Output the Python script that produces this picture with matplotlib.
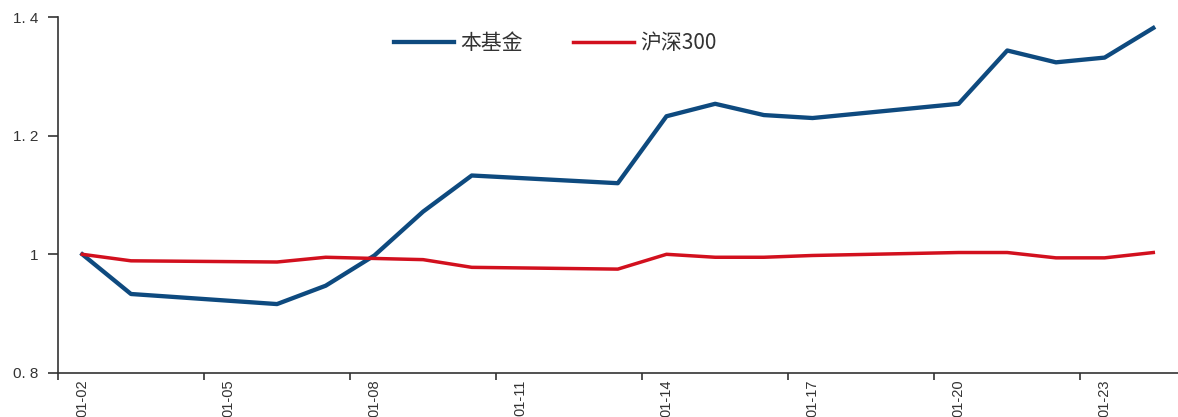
import matplotlib
matplotlib.use('Agg')
import numpy as np
import matplotlib.pyplot as plt
import matplotlib.dates as mdates
from matplotlib.ticker import FixedLocator, NullFormatter

# trading days, Jan 2025
dates = ['2025-01-02', '2025-01-03', '2025-01-06', '2025-01-07', '2025-01-08',
         '2025-01-09', '2025-01-10', '2025-01-13', '2025-01-14', '2025-01-15',
         '2025-01-16', '2025-01-17', '2025-01-20', '2025-01-21', '2025-01-22',
         '2025-01-23', '2025-01-24']
fund = [1.000, 0.933, 0.916, 0.947, 0.998,
        1.072, 1.133, 1.120, 1.233, 1.254,
        1.235, 1.230, 1.254, 1.344, 1.324,
        1.332, 1.382]
hs300 = [1.000, 0.989, 0.987, 0.995, 0.993,
         0.991, 0.978, 0.975, 1.000, 0.995,
         0.995, 0.998, 1.003, 1.003, 0.994,
         0.994, 1.003]
series_names = ['本基金', '沪深300']
y_ticks = [0.8, 1.0, 1.2, 1.4]
y_labels = ['0. 8', '1', '1. 2', '1. 4']

BLUE = '#0e4a7f'
RED = '#d2101e'

plt.rcParams['font.family'] = ['Noto Sans CJK SC', 'DejaVu Sans']

x = mdates.date2num(np.array(dates, dtype='datetime64[D]'))
x0 = x[0]

fig = plt.figure(figsize=(11.78, 4.17), dpi=100)
ax = fig.add_axes([0.0492, 0.106, 0.9505, 0.8525])

ax.plot(x, fund, color=BLUE, lw=3.1, label=series_names[0])
ax.plot(x, hs300, color=RED, lw=2.5, label=series_names[1])

ax.set_xlim(x0 - 0.5, x0 + 22.5)
ax.set_ylim(0.8, 1.4)

# tick marks sit between days, labels centred on the day
ax.xaxis.set_major_locator(FixedLocator([x0 - 0.5 + 3 * k for k in range(8)]))
ax.xaxis.set_major_formatter(NullFormatter())
ax.xaxis.set_minor_locator(FixedLocator([x0 + 3 * k for k in range(8)]))
ax.xaxis.set_minor_formatter(mdates.DateFormatter('%m-%d'))
ax.tick_params(axis='x', which='major', direction='out', length=5, width=1.2, color='#333333')
ax.tick_params(axis='x', which='minor', length=0, pad=5, labelsize=10.5, labelcolor='#333333')
for lab in ax.xaxis.get_minorticklabels():
    lab.set_rotation(90)
    lab.set_family(['Liberation Sans Narrow', 'Liberation Sans', 'DejaVu Sans'])

ax.set_yticks(y_ticks)
ax.set_yticklabels(y_labels)
ax.tick_params(axis='y', direction='out', length=7, width=1.2, color='#333333', labelsize=11,
               labelcolor='#333333', pad=7)
for lab in ax.get_yticklabels():
    lab.set_family(['Liberation Sans', 'DejaVu Sans'])

for s in ['top', 'right']:
    ax.spines[s].set_visible(False)
for s in ['left', 'bottom']:
    ax.spines[s].set_linewidth(1.2)
    ax.spines[s].set_color('#333333')

leg = ax.legend(loc='center', bbox_to_anchor=(0.444, 0.928), ncol=2, frameon=False,
                fontsize=15, handlelength=2.9, columnspacing=2.4, handletextpad=0.3)
for t in leg.get_texts():
    t.set_color('#333333')

fig.savefig('out.png', dpi=100)
